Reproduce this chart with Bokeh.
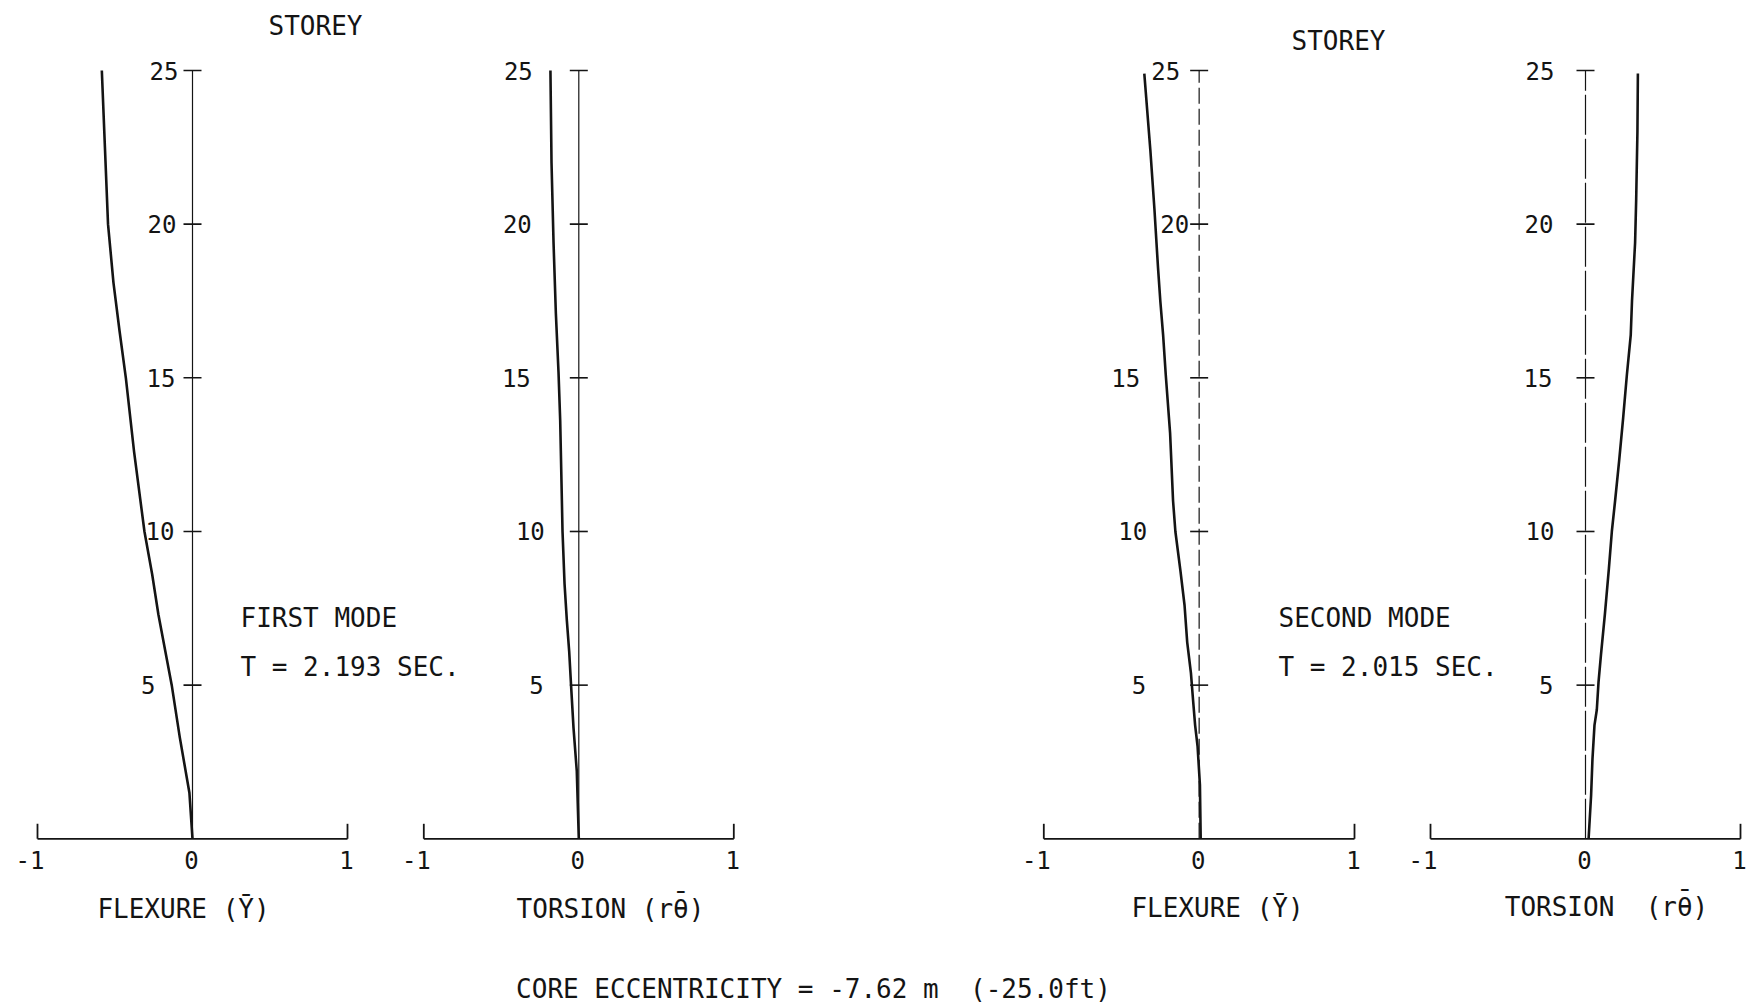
from bokeh.plotting import figure
from bokeh.models import Range1d, ColumnDataSource
from bokeh.embed import file_html
from bokeh.resources import INLINE
from bokeh.core.properties import value

# ---------------- data ----------------
storey_ticks = [5, 10, 15, 20, 25]
storey_labels = ["5", "10", "15", "20", "25"]
x_ticks = [-1, 0, 1]
x_tick_labels = ["-1", "0", "1"]

# First mode, flexure (Y bar)
flex1_storey = [0, 1.5, 3.3, 5, 7.3, 8.6, 10, 12.6, 15, 16.5, 18.1, 20, 22.5, 25]
flex1_value = [0.0, -0.02, -0.082, -0.134, -0.22, -0.26, -0.31, -0.377, -0.43, -0.47, -0.51, -0.545, -0.565, -0.585]

# First mode, torsion (r theta bar)
tors1_storey = [0, 2.2, 3.6, 5, 6.1, 7.1, 8.3, 10, 13.6, 15.2, 17.1, 19.4, 22, 25]
tors1_value = [0.0, -0.013, -0.034, -0.05, -0.062, -0.077, -0.092, -0.105, -0.12, -0.131, -0.148, -0.163, -0.176, -0.183]

# Second mode, flexure
flex2_storey = [0, 1.75, 3.0, 3.7, 4.5, 5.4, 6.4, 7.6, 8.7, 10, 11, 13.2, 15.1, 16.4, 17.5, 18.6, 20.5, 22.4, 24.9]
flex2_value = [0.01, 0.005, -0.01, -0.026, -0.039, -0.053, -0.077, -0.094, -0.12, -0.153, -0.168, -0.187, -0.215,
               -0.232, -0.25, -0.265, -0.288, -0.314, -0.353]

# Second mode, torsion
tors2_storey = [0, 1.4, 2.6, 3.7, 4.2, 5.1, 6.0, 7.3, 8.8, 10, 11, 12.3, 13.7, 15.1, 16.4, 17.5, 19.4, 20.8, 23, 24.9]
tors2_value = [0.02, 0.036, 0.045, 0.058, 0.073, 0.084, 0.10, 0.125, 0.151, 0.17, 0.191, 0.217, 0.243, 0.267, 0.292,
               0.30, 0.32, 0.327, 0.335, 0.338]

NB = "\u00a0"
title_storey = "STOREY"
mode1_name = "FIRST MODE"
mode1_period = "T = 2.193 SEC."
mode2_name = "SECOND MODE"
mode2_period = "T = 2.015 SEC."
flex_label = "FLEXURE (\u0232)"
tors_label = "TORSION (r\u03b8)"
tors_label2 = "TORSION" + NB + NB + "(r\u03b8)"
macron = "\u00af"
footer = "CORE ECCENTRICITY = -7.62 m" + NB + NB + "(-25.0ft)"

# ---------------- layout / style ----------------
W, H = 1747, 1006
FONT = value("DejaVu Sans Mono")
INK = "#141414"
CHAR_W = 0.602 * 26  # monospace advance at 26px

base_px, top_px = 838.3, 70.0           # pixel rows of storey 0 and storey 25
sy = (base_px - top_px) / max(storey_ticks)

p = figure(width=W, height=H, x_range=Range1d(0, W), y_range=Range1d(H, 0),
           output_backend="svg", toolbar_location=None, min_border=0,
           x_axis_location=None, y_axis_location=None)
p.grid.visible = False
p.outline_line_color = None
p.background_fill_color = "white"
p.border_fill_color = "white"

p.extra_y_ranges = {"storey": Range1d(start=-(H - base_px) / sy, end=max(storey_ticks) + top_px / sy)}

panels = [
    dict(name="p1", L=37.0, R=347.0, ys=flex1_storey, xs=flex1_value, dash="solid",
         gaps=[37, 18, 17, 16, 14]),
    dict(name="p2", L=423.3, R=733.3, ys=tors1_storey, xs=tors1_value, dash="solid",
         gaps=[35, 34, 48, 47, 46]),
    dict(name="p3", L=1043.3, R=1354.0, ys=flex2_storey, xs=flex2_value, dash="16 5",
         gaps=[53, 52, 59, 10, 19]),
    dict(name="p4", L=1430.0, R=1740.0, ys=tors2_storey, xs=tors2_value, dash="40 4",
         gaps=[32, 31, 33, 32, 31]),
]

for pn in panels:
    sx = (pn["R"] - pn["L"]) / 2.0
    p.extra_x_ranges[pn["name"]] = Range1d(start=-1 - pn["L"] / sx, end=-1 + (W - pn["L"]) / sx)
    kw = dict(x_range_name=pn["name"], y_range_name="storey")
    half_tick = 9.0 / sx
    end_tick = 15.0 / sy

    # vertical storey axis
    p.segment(x0=[0], y0=[0], x1=[0], y1=[max(storey_ticks)], line_color=INK, line_width=1.2,
              line_dash=pn["dash"], **kw)
    # storey tick marks
    p.segment(x0=[-half_tick] * len(storey_ticks), y0=storey_ticks,
              x1=[half_tick] * len(storey_ticks), y1=storey_ticks,
              line_color=INK, line_width=1.6, **kw)
    # horizontal base axis
    p.segment(x0=[x_ticks[0]], y0=[0], x1=[x_ticks[-1]], y1=[0], line_color=INK, line_width=1.8, **kw)
    p.segment(x0=[x_ticks[0], x_ticks[-1]], y0=[0, 0], x1=[x_ticks[0], x_ticks[-1]], y1=[end_tick, end_tick],
              line_color=INK, line_width=1.8, **kw)

    # mode shape
    p.line(x=pn["xs"], y=pn["ys"], line_color=INK, line_width=2.6, line_join="round", **kw)

    # storey labels
    src = ColumnDataSource(dict(x=[0] * len(storey_ticks), y=storey_ticks, t=storey_labels,
                                off=[-g for g in pn["gaps"]]))
    p.text(x="x", y="y", text="t", x_offset="off", source=src, text_font=FONT, text_font_size="24px",
           text_align="right", text_baseline="middle", text_color=INK, **kw)

    # x tick labels
    p.text(x=[x_ticks[0]], y=[0], text=[x_tick_labels[0]], x_offset=7, y_offset=21, text_font=FONT,
           text_font_size="24px", text_align="right", text_baseline="middle", text_color=INK, **kw)
    p.text(x=x_ticks[1:], y=[0, 0], text=x_tick_labels[1:], x_offset=-1, y_offset=21, text_font=FONT,
           text_font_size="24px", text_align="center", text_baseline="middle", text_color=INK, **kw)


# page texts
def page_text(x, y, t, align="center", size="26px"):
    p.text(x=[x], y=[y], text=[t], text_font=FONT, text_font_size=size, text_align=align,
           text_baseline="middle", text_color=INK)


def label_with_bar(cx, y, t):
    """centred label whose theta carries an over-bar"""
    page_text(cx, y, t)
    start = cx - len(t) * CHAR_W / 2
    k = t.index("\u03b8")
    page_text(start + (k + 0.5) * CHAR_W, y - 7, macron)


page_text(315, 25, title_storey)
page_text(1338, 40, title_storey)
page_text(240, 617, mode1_name, "left")
page_text(240, 666, mode1_period, "left")
page_text(1278, 617, mode2_name, "left")
page_text(1278, 666, mode2_period, "left")
page_text(183, 908, flex_label)
label_with_bar(610, 908, tors_label)
page_text(1217, 907, flex_label)
label_with_bar(1606, 906, tors_label2)
page_text(813, 988, footer)

open("out.html", "w").write(file_html(p, INLINE))
